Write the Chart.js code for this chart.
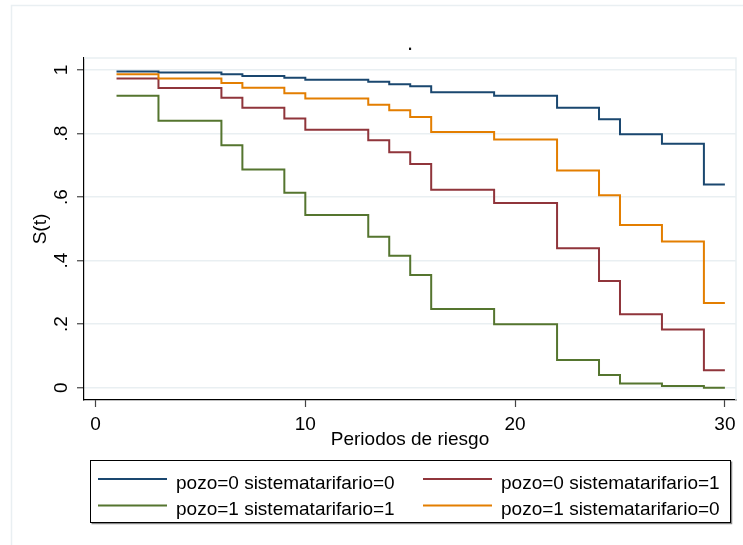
<!DOCTYPE html>
<html>
<head>
<meta charset="utf-8">
<script src="https://cdn.jsdelivr.net/npm/chart.js@4.4.1/dist/chart.umd.min.js"></script>
<style>
  html, body { margin: 0; padding: 0; background: #fff; }
  #chart { display: block; }
</style>
</head>
<body>
<canvas id="chart" width="743" height="545"></canvas>
<script>
// Kaplan-Meier survival estimates
const times = [1, 3, 6, 7, 9, 10, 13, 14, 15, 16, 19, 22, 24, 25, 27, 29, 30];

const pozo0Sist0 = [0.995, 0.992, 0.987, 0.981, 0.976, 0.969, 0.963, 0.955, 0.949, 0.930, 0.919, 0.881, 0.845, 0.798, 0.768, 0.640, 0.640];
const pozo0Sist1 = [0.973, 0.943, 0.913, 0.881, 0.847, 0.812, 0.779, 0.741, 0.704, 0.623, 0.581, 0.439, 0.336, 0.231, 0.183, 0.055, 0.055];
const pozo1Sist1 = [0.919, 0.840, 0.763, 0.687, 0.614, 0.544, 0.475, 0.415, 0.355, 0.248, 0.200, 0.087, 0.040, 0.013, 0.005, 0.000, 0.000];
const pozo1Sist0 = [0.987, 0.973, 0.959, 0.944, 0.927, 0.910, 0.891, 0.873, 0.852, 0.805, 0.781, 0.684, 0.606, 0.512, 0.460, 0.267, 0.267];

const seriesLabels = [
  'pozo=0 sistematarifario=0',
  'pozo=0 sistematarifario=1',
  'pozo=1 sistematarifario=1',
  'pozo=1 sistematarifario=0',
];
const seriesColors = ['#1a476f', '#90353b', '#55752f', '#e37e00'];

const xTicks      = [0, 10, 20, 30];
const yTicks      = [0, 0.2, 0.4, 0.6, 0.8, 1];
const yTickLabels = ['0', '.2', '.4', '.6', '.8', '1'];

const chartTitle = '.';
const xTitle     = 'Periodos de riesgo';
const yTitle     = 'S(t)';

const FONT = "'Liberation Sans', Arial, sans-serif";
const FSIZE = 19;
const GRID = '#e9eff2';

const toPoints = vals => vals.map((v, i) => ({ x: times[i], y: v }));

// frame, plot border, title dot and the two-column legend
const stataDecor = {
  id: 'stataDecor',
  beforeDraw(chart) {
    const { ctx, width, height } = chart;
    ctx.save();
    ctx.strokeStyle = GRID;
    ctx.lineWidth = 1.5;
    ctx.beginPath();
    ctx.moveTo(11.5, height);
    ctx.lineTo(11.5, 5.5);
    ctx.lineTo(width, 5.5);
    ctx.stroke();
    ctx.restore();
  },
  beforeDatasetsDraw(chart) {
    const { ctx, chartArea: a } = chart;
    ctx.save();
    ctx.strokeStyle = GRID;
    ctx.lineWidth = 1.5;
    ctx.beginPath();
    ctx.moveTo(a.left, a.top);
    ctx.lineTo(a.right, a.top);
    ctx.lineTo(a.right, a.bottom);
    ctx.stroke();
    ctx.restore();
  },
  afterDraw(chart) {
    const { ctx, chartArea: a } = chart;
    ctx.save();
    // title
    ctx.fillStyle = '#111';
    ctx.font = `22px ${FONT}`;
    ctx.textAlign = 'center';
    ctx.textBaseline = 'alphabetic';
    ctx.fillText(chartTitle, (a.left + a.right) / 2, 49.5);

    // legend box
    const box = { x: 90.5, y: 460.5, w: 640, h: 62 };
    ctx.strokeStyle = '#888';
    ctx.lineWidth = 1.5;
    ctx.beginPath();
    ctx.moveTo(box.x + 1, box.y + box.h + 1);
    ctx.lineTo(box.x + box.w + 1, box.y + box.h + 1);
    ctx.lineTo(box.x + box.w + 1, box.y + 1);
    ctx.stroke();
    ctx.strokeStyle = '#000';
    ctx.lineWidth = 1;
    ctx.strokeRect(box.x, box.y, box.w, box.h);

    const colLine = [98, 423];
    const colText = [176, 501];
    const rowLine = [479, 505.5];
    const rowBase = [489, 515];
    ctx.font = `${FSIZE}px ${FONT}`;
    ctx.textAlign = 'left';
    chart.data.datasets.forEach((ds, i) => {
      const c = i % 2, r = Math.floor(i / 2);
      ctx.strokeStyle = ds.borderColor;
      ctx.lineWidth = 2;
      ctx.beginPath();
      ctx.moveTo(colLine[c], rowLine[r]);
      ctx.lineTo(colLine[c] + 69, rowLine[r]);
      ctx.stroke();
      ctx.fillStyle = '#000';
      ctx.fillText(ds.label, colText[c], rowBase[r]);
    });
    ctx.restore();
  },
};

const datasets = [pozo0Sist0, pozo0Sist1, pozo1Sist1, pozo1Sist0].map((vals, i) => ({
  label: seriesLabels[i],
  data: toPoints(vals),
  borderColor: seriesColors[i],
  backgroundColor: seriesColors[i],
  borderWidth: 2,
  stepped: 'before',
  pointRadius: 0,
  fill: false,
  order: seriesLabels.length - i,
}));

new Chart(document.getElementById('chart'), {
  type: 'line',
  data: { datasets },
  options: {
    responsive: false,
    animation: false,
    devicePixelRatio: 1,
    font: { family: FONT, size: FSIZE },
    color: '#000',
    layout: { padding: { left: 0, top: 58, right: 7, bottom: 94 } },
    plugins: {
      legend: { display: false },
      title: { display: false },
      tooltip: { enabled: false },
    },
    scales: {
      x: {
        type: 'linear',
        min: -0.55,
        max: 30.53,
        afterBuildTicks: s => { s.ticks = xTicks.map(v => ({ value: v })); },
        afterFit: s => { s.height = 51; },
        grid: { drawOnChartArea: false, tickLength: 7, tickColor: '#444', tickWidth: 1.2 },
        border: { color: '#000', width: 1.2 },
        ticks: { color: '#000', padding: 6, font: { family: FONT, size: FSIZE }, maxRotation: 0, autoSkip: false },
        title: { display: true, text: xTitle, color: '#000', padding: { top: 0, bottom: 0 }, font: { family: FONT, size: FSIZE } },
      },
      y: {
        type: 'linear',
        min: -0.0387,
        max: 1.0378,
        afterBuildTicks: s => { s.ticks = yTicks.map(v => ({ value: v })); },
        afterFit: s => { s.width = 84; },
        grid: { color: GRID, lineWidth: 1.5, tickLength: 7, tickColor: '#444', tickWidth: 1.2 },
        border: { color: '#000', width: 1.2 },
        ticks: {
          color: '#000',
          padding: 7,
          minRotation: 90,
          maxRotation: 90,
          crossAlign: 'center',
          autoSkip: false,
          font: { family: FONT, size: FSIZE },
          callback: (v, i) => yTickLabels[i],
        },
        title: { display: true, text: yTitle, color: '#000', padding: { top: 29, bottom: 0 }, font: { family: FONT, size: FSIZE } },
      },
    },
  },
  plugins: [stataDecor],
});
</script>
</body>
</html>
